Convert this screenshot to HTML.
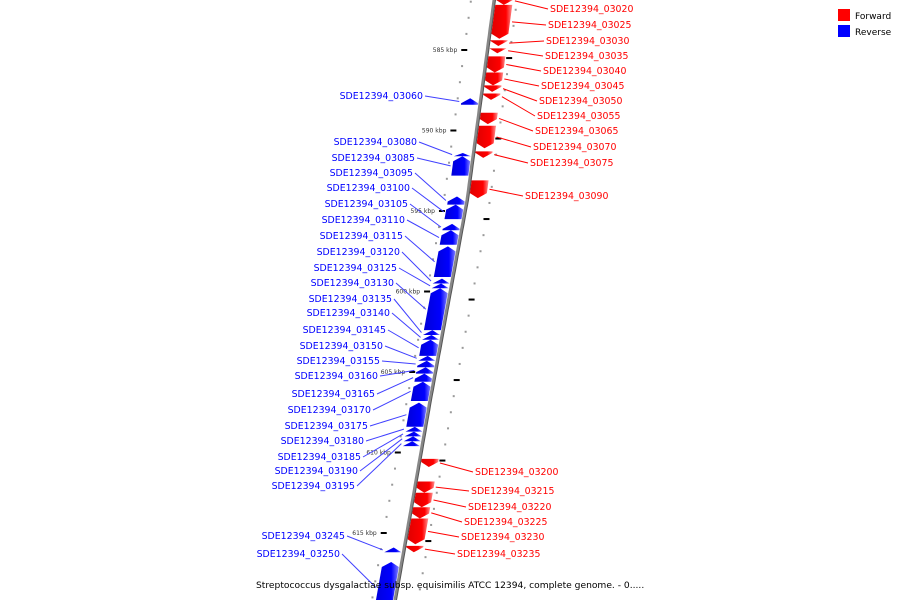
<!DOCTYPE html>
<html><head><meta charset="utf-8"><style>
html,body{margin:0;padding:0;background:#fff;}
svg{display:block;font-family:"DejaVu Sans","Liberation Sans",sans-serif;}
</style></head><body>
<svg id="chart" width="900" height="600" viewBox="0 0 900 600" xmlns="http://www.w3.org/2000/svg">
<defs>
<linearGradient id="gr" x1="0" x2="1" y1="0" y2="0"><stop offset="0" stop-color="#e00000"/><stop offset="0.7" stop-color="#ff0000"/><stop offset="1" stop-color="#ff9090"/></linearGradient>
<linearGradient id="gb" x1="0" x2="1" y1="0" y2="0"><stop offset="0" stop-color="#0000d8"/><stop offset="0.7" stop-color="#0000ff"/><stop offset="1" stop-color="#8080ff"/></linearGradient>
</defs>
<g id="ticks"></g>
<polyline id="axis" fill="none" stroke="#888" stroke-width="3"/>
<polyline id="axis2" fill="none" stroke="#555" stroke-width="1"/>
<g id="genes"></g>
<g id="labels"></g>
<g>
<rect x="838" y="9" width="12" height="12" fill="#ff0000"/>
<text x="855" y="19" font-size="9" fill="#000">Forward</text>
<rect x="838" y="25" width="12" height="12" fill="#0000ff"/>
<text x="855" y="35" font-size="9" fill="#000">Reverse</text>
</g>
<text x="256" y="588" font-size="9.15" fill="#000">Streptococcus dysgalactiae subsp. equisimilis ATCC 12394, complete genome. - 0.....</text>
</svg>
<script>
// gene names, strand, start/end (kbp)
const geneNames = ["SDE12394_03020","SDE12394_03025","SDE12394_03030","SDE12394_03035","SDE12394_03040","SDE12394_03045","SDE12394_03050","SDE12394_03055","SDE12394_03065","SDE12394_03070","SDE12394_03075","SDE12394_03090","SDE12394_03200","SDE12394_03215","SDE12394_03220","SDE12394_03225","SDE12394_03230","SDE12394_03235",
"SDE12394_03060","SDE12394_03080","SDE12394_03085","SDE12394_03095","SDE12394_03100","SDE12394_03105","SDE12394_03110","SDE12394_03115","SDE12394_03120","SDE12394_03125","SDE12394_03130","SDE12394_03135","SDE12394_03140","SDE12394_03145","SDE12394_03150","SDE12394_03155","SDE12394_03160","SDE12394_03165","SDE12394_03170","SDE12394_03175","SDE12394_03180","SDE12394_03185","SDE12394_03190","SDE12394_03195","SDE12394_03245","SDE12394_03250"];
const geneStrand = ["+","+","+","+","+","+","+","+","+","+","+","+","+","+","+","+","+","+",
"-","-","-","-","-","-","-","-","-","-","-","-","-","-","-","-","-","-","-","-","-","-","-","-","-","-"];
const geneStart = [581.7,582.2,584.4,584.9,585.4,586.4,587.2,587.7,588.9,589.7,591.3,593.1,610.4,611.8,612.5,613.4,614.1,615.8,
588.0,591.4,591.6,594.1,594.6,595.8,596.2,597.2,599.2,599.5,599.8,602.4,602.7,603.0,604.0,604.3,604.7,605.1,605.6,606.9,608.4,608.7,609.0,609.3,615.9,616.8];
const geneEnd = [582.2,584.3,584.75,585.2,586.4,587.2,587.6,588.1,589.6,591.1,591.7,594.2,610.9,612.5,613.4,614.1,615.7,616.2,
588.4,591.6,592.8,594.6,595.5,596.2,597.1,599.1,599.5,599.8,602.4,602.7,603.0,604.0,604.3,604.7,605.1,605.6,606.8,608.4,608.7,609.0,609.3,609.6,616.2,620.0];
const kbpTicks = [585,590,595,600,605,610,615];
const kbpTickLabels = ["585 kbp","590 kbp","595 kbp","600 kbp","605 kbp","610 kbp","615 kbp"];
// label layout (pixels)
const labelY = [12,28,44,59,74,89,104,119,134,150,166,199,475,494,510,525,540,557,
99,145,161,176,191,207,223,239,255,271,286,302,316,333,349,364,379,397,413,429,444,460,474,489,539,557];
const labelX = [550,548,546,545,543,541,539,537,535,533,530,525,475,471,468,464,461,457,
423,417,415,413,410,408,405,403,400,397,394,392,390,386,383,380,378,375,371,368,364,361,358,355,345,340];

const NS="http://www.w3.org/2000/svg";
const ky = k => 50 + (k-585)*16.1;
const axY=[0,200,400,600], axX=[494,467,430,395];
function lx(y){
  if(y<=0) return 494 + (-y)*(27/200);
  for(let i=0;i<3;i++){ if(y<=axY[i+1]){const t=(y-axY[i])/(axY[i+1]-axY[i]);return axX[i]+t*(axX[i+1]-axX[i]);} }
  return 395-(y-600)*0.175;
}
function mk(tag,attrs,parent){const e=document.createElementNS(NS,tag);for(const k in attrs)e.setAttribute(k,attrs[k]);parent.appendChild(e);return e;}

const pts=[];for(let y=-5;y<=605;y+=5)pts.push(lx(y).toFixed(1)+","+y);
document.getElementById('axis').setAttribute('points',pts.join(" "));
const pts2=[];for(let y=-5;y<=605;y+=5)pts2.push((lx(y)+1.5).toFixed(1)+","+y);
document.getElementById('axis2').setAttribute('points',pts2.join(" "));

const tg=document.getElementById('ticks');
for(let k=582;k<=620;k++){
  const y=ky(k);
  const d=mk('rect',{x:lx(y)-24,y:y-1,width:2,height:2,fill:'#999'},tg);
  
  
  const y2=ky(k+0.5);
  const d2=mk('rect',{x:lx(y2)+22,y:y2-1,width:2,height:2,fill:'#999'},tg);
  
  
}
kbpTicks.forEach((k,i)=>{
  const y=ky(k);
  const m=mk('rect',{x:lx(y)-26,y:y-1,width:6,height:2,fill:'#000'},tg);
  
  
  const y2=ky(k+0.5);
  const m2=mk('rect',{x:lx(y2)+20,y:y2-1,width:6,height:2,fill:'#000'},tg);
  
  
  const t=mk('text',{x:lx(y)-30,y:y+2,'font-size':6,'text-anchor':'end',fill:'#333'},tg);
  t.textContent=kbpTickLabels[i];
  
  
});

const gg=document.getElementById('genes'), lg=document.getElementById('labels');
geneNames.forEach((n,i)=>{
  const fwd=geneStrand[i]==="+";
  const y0=ky(geneStart[i]), y1=ky(geneEnd[i]);
  const h=y1-y0, head=Math.min(5,h);
  const a=fwd?2:-19, b=fwd?19:-2;
  let p;
  if(fwd){
    const yb=y1-head, ym=y1;
    p=[[lx(y0)+a,y0],[lx(y0)+b,y0],[lx(yb)+b,yb],[lx(ym)+(a+b)/2,ym],[lx(yb)+a,yb]];
  }else{
    const yb=y0+head;
    p=[[lx(y0)+(a+b)/2,y0],[lx(yb)+b,yb],[lx(y1)+b,y1],[lx(y1)+a,y1],[lx(yb)+a,yb]];
  }
  const g=mk('polygon',{points:p.map(q=>q[0].toFixed(1)+","+q[1].toFixed(1)).join(" "),fill:fwd?'url(#gr)':'url(#gb)'},gg);
  
  
  const ym=(y0+y1)/2, ly=labelY[i];
  if(fwd){
    const l=mk('line',{x1:lx(ym)+21,y1:ym,x2:labelX[i]-2,y2:ly-3,stroke:'#ff0000','stroke-width':1},lg);
    
    
    const t=mk('text',{x:labelX[i],y:ly,'font-size':9.4,fill:'#ff0000'},lg);
    t.textContent=n;
    
    
  }else{
    const l=mk('line',{x1:labelX[i]+2,y1:ly-3,x2:lx(ym)-21,y2:ym,stroke:'#4040ff','stroke-width':1},lg);
    
    
    const t=mk('text',{x:labelX[i],y:ly,'font-size':9.4,fill:'#0000ff','text-anchor':'end'},lg);
    t.textContent=n;
    
    
  }
});
</script>
</body></html>
